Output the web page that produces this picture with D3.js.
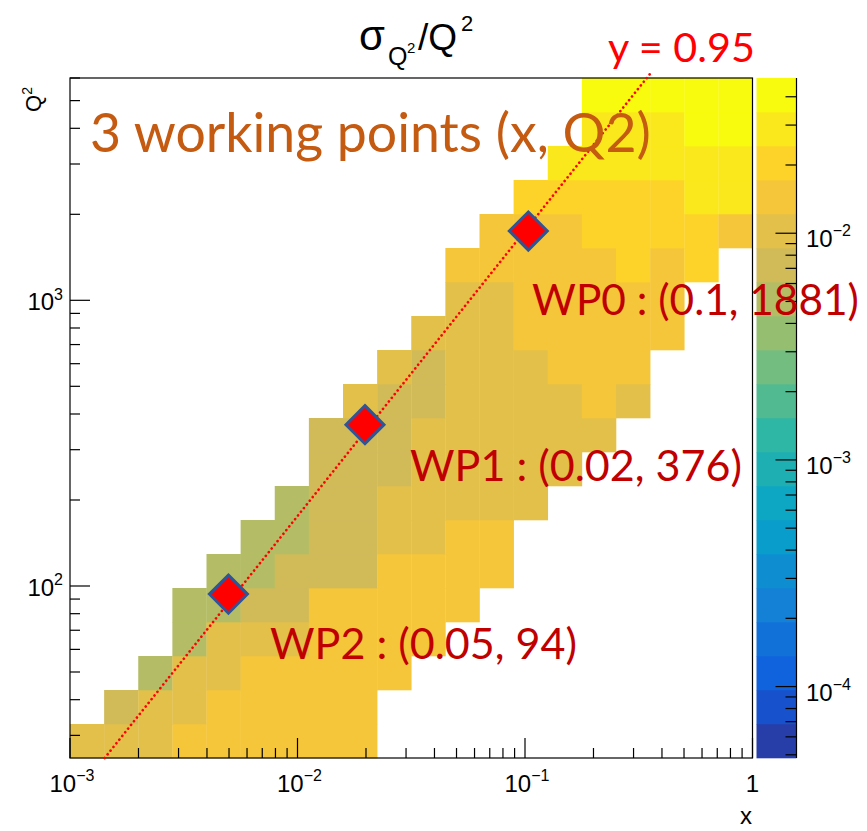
<!DOCTYPE html>
<html><head><meta charset="utf-8">
<script src="https://cdn.jsdelivr.net/npm/d3@7"></script>
<style>body{margin:0;background:#fff}</style>
</head><body>
<svg id="c" width="867" height="831" xmlns="http://www.w3.org/2000/svg"></svg>
<script>
// ---------------- data ----------------
const xRange = [1e-3, 1];          // x axis (log)
const q2Range = [25, 6000];        // Q^2 axis (log)
const nXBins = 20;
const nQ2Bins = 20;
const zRange = [4.84e-5, 0.0484];  // colour axis sigma_Q2/Q2 (log)
const nContours = 20;
const n = null;
// sigma_{Q^2}/Q^2 per cell: rows from lowest Q^2 bin upward, columns from lowest x bin
const cellValues = [
  [.0102,.0102,.0102,.0145,.0145,.0145,.0145,.0145,.0145,n,n,n,n,n,n,n,n,n,n,n],
  [n,.0072,.0102,.0102,.0145,.0145,.0145,.0145,.0145,n,n,n,n,n,n,n,n,n,n,n],
  [n,n,.0051,.0102,.0102,.0145,.0145,.0145,.0145,.0145,n,n,n,n,n,n,n,n,n,n],
  [n,n,n,.0051,.0102,.0102,.0102,.0145,.0145,.0145,.0145,n,n,n,n,n,n,n,n,n],
  [n,n,n,.0051,.0051,.0072,.0072,.0145,.0145,.0145,.0145,.0145,n,n,n,n,n,n,n,n],
  [n,n,n,n,.0051,.0051,.0072,.0072,.0072,.0145,.0145,.0145,.0145,n,n,n,n,n,n,n],
  [n,n,n,n,n,.0051,.0051,.0072,.0072,.0102,.0102,.0145,.0145,n,n,n,n,n,n,n],
  [n,n,n,n,n,n,.0051,.0072,.0072,.0102,.0102,.0102,.0102,.0102,n,n,n,n,n,n],
  [n,n,n,n,n,n,n,.0072,.0072,.0072,.0102,.0102,.0102,.0102,.0102,n,n,n,n,n],
  [n,n,n,n,n,n,n,.0072,.0072,.0072,.0102,.0102,.0102,.0102,.0102,.0102,n,n,n,n],
  [n,n,n,n,n,n,n,n,.0102,.0072,.0072,.0102,.0102,.0102,.0102,.0145,.0102,n,n,n],
  [n,n,n,n,n,n,n,n,n,.0102,.0072,.0102,.0102,.0102,.0145,.0145,.0145,n,n,n],
  [n,n,n,n,n,n,n,n,n,n,.0102,.0102,.0102,.0145,.0145,.0145,.0145,.0145,n,n],
  [n,n,n,n,n,n,n,n,n,n,n,.0102,.0102,.0145,.0145,.0145,.0145,.0145,n,n],
  [n,n,n,n,n,n,n,n,n,n,n,.0145,.0145,.0145,.0145,.0145,.0205,.0145,.0205,n],
  [n,n,n,n,n,n,n,n,n,n,n,n,.0145,.0145,.0145,.0205,.0205,.0205,.0205,.0145],
  [n,n,n,n,n,n,n,n,n,n,n,n,n,.0205,.0205,.0205,.0205,.0205,.029,.029],
  [n,n,n,n,n,n,n,n,n,n,n,n,n,n,.029,.029,.029,.029,.029,.029],
  [n,n,n,n,n,n,n,n,n,n,n,n,n,n,n,.029,.029,.029,.041,.041],
  [n,n,n,n,n,n,n,n,n,n,n,n,n,n,n,.041,.041,.041,.041,.041]
];
// working points as drawn (marker positions) and their labels
const wpX = [0.1034, 0.0198, 0.00497];
const wpQ2 = [1748, 367, 93.7];
const wpLabels = ["WP0 : (0.1, 1881)", "WP1 : (0.02, 376)", "WP2 : (0.05, 94)"];
// y = 0.95 line end points
const lineX = [0.00142, 0.36];
const lineQ2 = [25, 6300];
const xTickExps = [-3, -2, -1, 0];
const q2TickExps = [2, 3];
const zTickExps = [-4, -3, -2];

// ---------------- layout ----------------
const L = 70, R = 752.5, T = 78, B = 758;
const CBL = 756.5, CBR = 796.5;
const FONT = "'Liberation Sans', Arial, Helvetica, sans-serif";
const CAL = "Lato, 'Open Sans', sans-serif";

const svg = d3.select("#c");
const xS = d3.scaleLog().domain(xRange).range([L, R]);
const yS = d3.scaleLog().domain(q2Range).range([B, T]);
const zS = d3.scaleLog().domain(zRange).range([B, T]);

// kBird palette (ROOT)
const stops = [0, .125, .25, .375, .5, .625, .75, .875, 1];
const rr = [0.2082, 0.0592, 0.0780, 0.0232, 0.1802, 0.5301, 0.8186, 0.9956, 0.9764];
const gg = [0.1664, 0.3599, 0.5041, 0.6419, 0.7178, 0.7492, 0.7328, 0.7862, 0.9832];
const bb = [0.5293, 0.8684, 0.8385, 0.7914, 0.6425, 0.4662, 0.3499, 0.1968, 0.0539];
const pal = d3.range(255).map(i => {
  const f = i / 254;
  let k = 0; while (k < stops.length - 2 && f > stops[k + 1]) k++;
  const t = (f - stops[k]) / (stops[k + 1] - stops[k]);
  const c = a => Math.round(255 * (a[k] + t * (a[k + 1] - a[k])));
  return d3.rgb(c(rr), c(gg), c(bb)).formatHex();
});
const lz0 = Math.log10(zRange[0]), lz1 = Math.log10(zRange[1]);
function bandOf(z) {
  let b = Math.floor((Math.log10(z) - lz0) / (lz1 - lz0) * nContours);
  return Math.max(0, Math.min(nContours - 1, b));
}
function bandColor(b) { return pal[Math.floor((b + 0.99) * 255 / nContours)]; }

// bin edges
const lx0 = Math.log10(xRange[0]), lx1 = Math.log10(xRange[1]);
const ly0 = Math.log10(q2Range[0]), ly1 = Math.log10(q2Range[1]);
const xEdges = d3.range(nXBins + 1).map(i => Math.pow(10, lx0 + i * (lx1 - lx0) / nXBins));
const yEdges = d3.range(nQ2Bins + 1).map(j => Math.pow(10, ly0 + j * (ly1 - ly0) / nQ2Bins));

const cells = [];
cellValues.forEach((row, j) => row.forEach((v, i) => { if (v != null) cells.push({i, j, v}); }));

svg.append("g").selectAll("rect").data(cells).join("rect")
  .attr("x", d => xS(xEdges[d.i]))
  .attr("y", d => yS(yEdges[d.j + 1]))
  .attr("width", d => xS(xEdges[d.i + 1]) - xS(xEdges[d.i]) + 0.3)
  .attr("height", d => yS(yEdges[d.j]) - yS(yEdges[d.j + 1]) + 0.3)
  .attr("fill", d => bandColor(bandOf(d.v)));

// frame
svg.append("rect").attr("x", L).attr("y", T).attr("width", R - L).attr("height", B - T)
  .attr("fill", "none").attr("stroke", "#000").attr("stroke-width", 1.2);

// ticks helper
function logTicks(lo, hi) {
  const out = [];
  for (let e = Math.floor(Math.log10(lo)); e <= Math.ceil(Math.log10(hi)); e++)
    for (let m = 1; m <= 9; m++) {
      const v = m * Math.pow(10, e);
      if (v >= lo * 0.9999 && v <= hi * 1.0001) out.push({v, major: m === 1});
    }
  return out;
}
const axG = svg.append("g").attr("stroke", "#000").attr("stroke-width", 1.2);
logTicks(xRange[0], xRange[1]).forEach(t => {
  axG.append("line").attr("x1", xS(t.v)).attr("x2", xS(t.v))
    .attr("y1", B).attr("y2", B - (t.major ? 20 : 10));
});
logTicks(q2Range[0], q2Range[1]).forEach(t => {
  axG.append("line").attr("y1", yS(t.v)).attr("y2", yS(t.v))
    .attr("x1", L).attr("x2", L + (t.major ? 20 : 10));
});

function powLabel(g, x, y, exp, anchor, fs, sfs) {
  const txt = g.append("text").attr("x", x).attr("y", y)
    .attr("font-family", FONT).attr("font-size", fs).attr("fill", "#000");
  if (exp === 0) { txt.text("1"); }
  else {
    txt.append("tspan").text("10");
    txt.append("tspan").attr("dy", -fs * 0.45).attr("font-size", sfs).text(exp < 0 ? "\u2212" + (-exp) : String(exp));
  }
  if (anchor !== "start") {
    const w = txt.node().getComputedTextLength();
    txt.attr("x", anchor === "middle" ? x - w / 2 : x - w);
  }
  return txt;
}
const lab = svg.append("g");
xTickExps.forEach(e => {
  if (e === 0) powLabel(lab, xS(1), 792, 0, "middle", 24, 16);
  else powLabel(lab, xS(Math.pow(10, e)) + 2, 792, e, "middle", 24, 16);
});
q2TickExps.forEach(e => powLabel(lab, 63, yS(Math.pow(10, e)) + 10, e, "end", 24, 16));

// axis titles
svg.append("text").attr("x", 752).attr("y", 824).attr("text-anchor", "end")
  .attr("font-family", FONT).attr("font-size", 24).text("x");
const qt = svg.append("text").attr("transform", "translate(41,87) rotate(-90)")
  .attr("text-anchor", "end").attr("font-family", FONT).attr("font-size", 22);
qt.append("tspan").text("Q");
qt.append("tspan").attr("dy", -9).attr("font-size", 14).text("2");

// colour bar
const bandEdges = d3.range(nContours + 1).map(k => Math.pow(10, lz0 + k * (lz1 - lz0) / nContours));
svg.append("g").selectAll("rect").data(d3.range(nContours)).join("rect")
  .attr("x", CBL).attr("width", CBR - CBL)
  .attr("y", k => zS(bandEdges[k + 1]))
  .attr("height", k => zS(bandEdges[k]) - zS(bandEdges[k + 1]) + 0.3)
  .attr("fill", k => bandColor(k));
const cbG = svg.append("g").attr("stroke", "#000").attr("stroke-width", 1.2);
cbG.append("line").attr("x1", CBR).attr("x2", CBR).attr("y1", T).attr("y2", B);
logTicks(zRange[0], zRange[1]).forEach(t => {
  cbG.append("line").attr("x1", CBR).attr("x2", CBR - (t.major ? 21 : 11))
    .attr("y1", zS(t.v)).attr("y2", zS(t.v));
});
zTickExps.forEach(e => powLabel(lab, 806, zS(Math.pow(10, e)) + 14, e, "start", 24, 16));

// title sigma_{Q^2}/Q^2
const tg = svg.append("g").attr("font-family", FONT).attr("fill", "#000");
tg.append("text").attr("x", 359).attr("y", 50).attr("font-size", 42).text("\u03c3");
tg.append("text").attr("x", 388).attr("y", 65).attr("font-size", 25).text("Q");
tg.append("text").attr("x", 407).attr("y", 53).attr("font-size", 15).text("2");
tg.append("text").attr("x", 418).attr("y", 50).attr("font-size", 37).text("/Q");
tg.append("text").attr("x", 461).attr("y", 31).attr("font-size", 22).text("2");

// y = 0.95 line
svg.append("path")
  .attr("d", d3.line().x(d => xS(d[0])).y(d => yS(d[1]))(lineX.map((x, i) => [x, lineQ2[i]])))
  .attr("fill", "none").attr("stroke", "#ff0000").attr("stroke-width", 2.6)
  .attr("stroke-linecap", "round").attr("stroke-dasharray", "0.1 4.6");

// diamonds
svg.append("g").selectAll("path").data(wpX.map((x, i) => [x, wpQ2[i]])).join("path")
  .attr("transform", d => `translate(${xS(d[0])},${yS(d[1])})`)
  .attr("d", "M0,-19L19,0L0,19L-19,0Z")
  .attr("fill", "#ff0000").attr("stroke", "#2f5597").attr("stroke-width", 3);

// overlay texts (fitted to measured widths)
function fitText(x, y, w, txt, color, fs) {
  const t = svg.append("text").attr("x", x).attr("y", y).attr("font-family", CAL)
    .attr("font-size", fs).attr("fill", color).text(txt);
  const cur = t.node().getComputedTextLength();
  t.attr("font-size", fs * w / cur);
  return t;
}
fitText(90, 152, 561, "3 working points (x, Q2)", "#c55a11", 50);
fitText(608, 62, 147, "y = 0.95", "#ff0000", 40);
const wpPos = [[532, 315, 327], [410, 481, 332], [270, 659, 307]];
wpLabels.forEach((s, i) => fitText(wpPos[i][0], wpPos[i][1], wpPos[i][2], s, "#c00000", 44));
</script>
</body></html>
